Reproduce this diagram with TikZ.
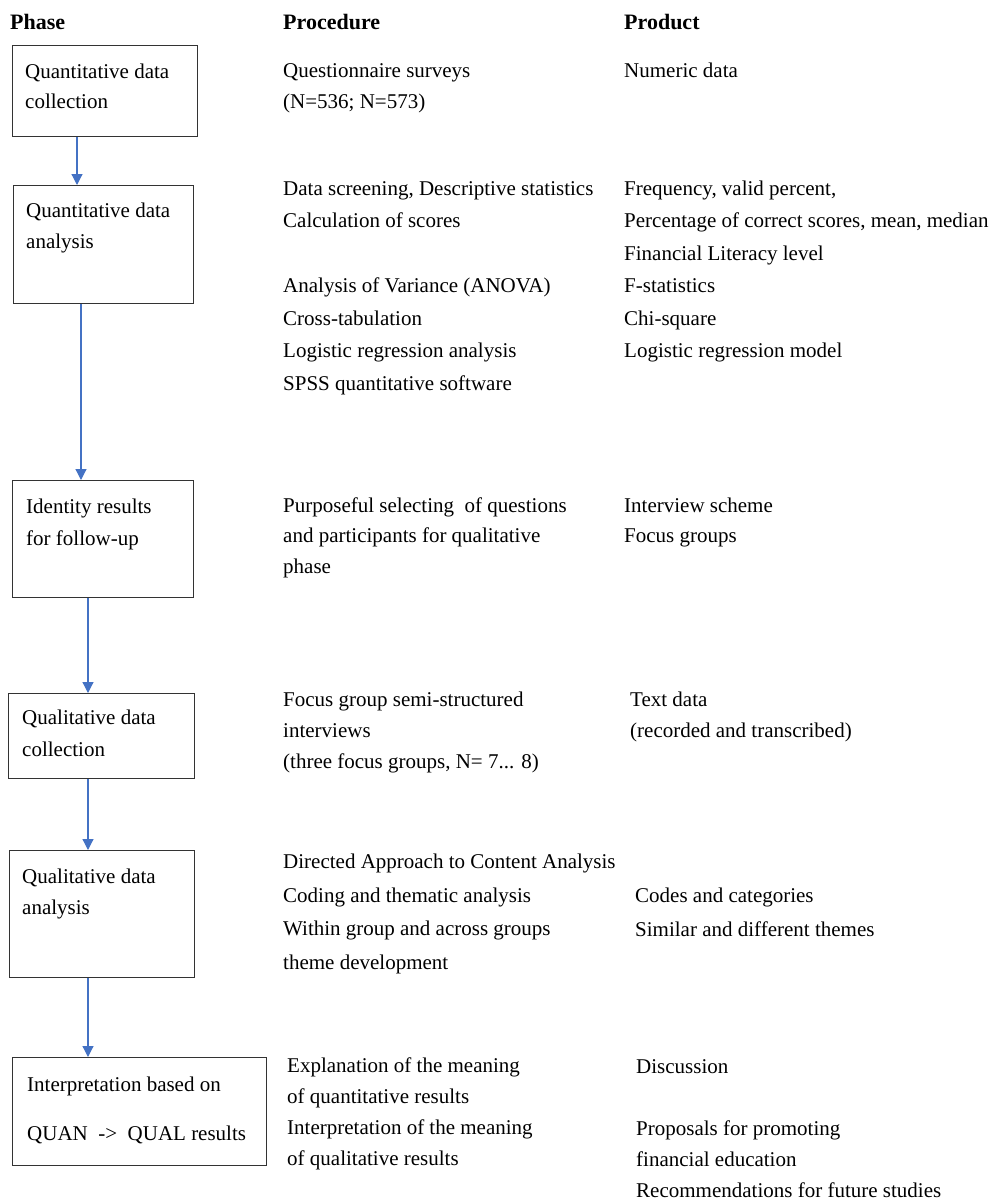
\documentclass[tikz,border=0pt]{standalone}
\usepackage{fontspec}
\setmainfont{Liberation Serif}
\usetikzlibrary{arrows.meta}

\definecolor{flowblue}{HTML}{4472C4}
\newcommand{\bodyfont}[1]{\fontsize{21}{#1}\selectfont}

\tikzset{
  phase/.style={draw=black!80,line width=1.4pt,inner sep=0pt,anchor=north west},
  txt/.style={anchor=base west,align=left,inner sep=0pt},
  head/.style={anchor=base west,inner sep=0pt,font=\fontsize{22}{26}\selectfont\bfseries},
  flow/.style={draw=flowblue,line width=1.2pt,-{Triangle[length=11pt,width=11pt]}}
}

\begin{document}
\begin{tikzpicture}[x=1pt,y=-1pt]
  \useasboundingbox (0,0) rectangle (990,1202);

  % column heads
  \node[head] (hphase) at (10,29) {Phase};
  \node[head] (hproc) at (283,29) {Procedure};
  \node[head] (hprod) at (624,29) {Product};

  % phase boxes
  \node[phase,minimum width=185pt,minimum height=91pt] (b1) at (12,45) {};
  \node[phase,minimum width=180pt,minimum height=118pt] (b2) at (13,185) {};
  \node[phase,minimum width=181pt,minimum height=117pt] (b3) at (12,480) {};
  \node[phase,minimum width=186pt,minimum height=85pt] (b4) at (8,693) {};
  \node[phase,minimum width=185pt,minimum height=127pt] (b5) at (9,850) {};
  \node[phase,minimum width=254pt,minimum height=108pt] (b6) at (12,1057) {};

  % box texts (placed at the baseline of their last line)
  \node[txt,font=\bodyfont{30}] (t1) at (25,108) {Quantitative data\\collection};
  \node[txt,font=\bodyfont{31}] (t2) at (26,248) {Quantitative data\\analysis};
  \node[txt,font=\bodyfont{32}] (t3) at (26,545) {Identity results\\for follow-up};
  \node[txt,font=\bodyfont{32}] (t4) at (22,756) {Qualitative data\\collection};
  \node[txt,font=\bodyfont{31}] (t5) at (22,914) {Qualitative data\\analysis};
  \node[txt,font=\bodyfont{49}] (t6) at (27,1140) {Interpretation based on\\QUAN\ \ ->\ \ QUAL results};

  % arrows between phases
  \draw[flow] ([xshift=65pt]b1.south west) -- ([xshift=64pt]b2.north west);
  \draw[flow] ([xshift=68pt]b2.south west) -- ([xshift=69pt]b3.north west);
  \draw[flow] ([xshift=76pt]b3.south west) -- ([xshift=80pt]b4.north west);
  \draw[flow] ([xshift=80pt]b4.south west) -- ([xshift=79pt]b5.north west);
  \draw[flow] ([xshift=79pt]b5.south west) -- ([xshift=76pt]b6.north west);

  % procedure column
  \node[txt,font=\bodyfont{31}] (p1) at (283,108) {Questionnaire surveys\\(N=536; N=573)};
  \node[txt,font=\bodyfont{32.5}] (p2) at (283,390) {Data screening, Descriptive statistics\\Calculation of scores\\[32.5pt]Analysis of Variance (ANOVA)\\Cross-tabulation\\Logistic regression analysis\\SPSS quantitative software};
  \node[txt,font=\bodyfont{30.5}] (p3) at (283,573) {Purposeful selecting\ \ of questions\\and participants for qualitative\\phase};
  \node[txt,font=\bodyfont{31}] (p4) at (283,768) {Focus group semi-structured\\interviews\\(three focus groups, N= 7... 8)};
  \node[txt,font=\bodyfont{33.5}] (p5) at (283,969) {Directed Approach to Content Analysis\\Coding and thematic analysis\\Within group and across groups\\theme development};
  \node[txt,font=\bodyfont{30.7}] (p6) at (287,1165) {Explanation of the meaning\\of quantitative results\\Interpretation of the meaning\\of qualitative results};

  % product column
  \node[txt,font=\bodyfont{31}] (r1) at (624,77) {Numeric data};
  \node[txt,font=\bodyfont{32.5}] (r2) at (624,357.5) {Frequency, valid percent,\\Percentage of correct scores, mean, median\\Financial Literacy level\\F-statistics\\Chi-square\\Logistic regression model};
  \node[txt,font=\bodyfont{30.5}] (r3) at (624,542.5) {Interview scheme\\Focus groups};
  \node[txt,font=\bodyfont{31}] (r4) at (630,737) {Text data\\(recorded and transcribed)};
  \node[txt,font=\bodyfont{33.5}] (r5) at (635,936) {Codes and categories\\Similar and different themes};
  \node[txt,font=\bodyfont{31}] (r6) at (636,1197) {Discussion\\[31pt]Proposals for promoting\\financial education\\Recommendations for future studies};

\end{tikzpicture}
\end{document}
